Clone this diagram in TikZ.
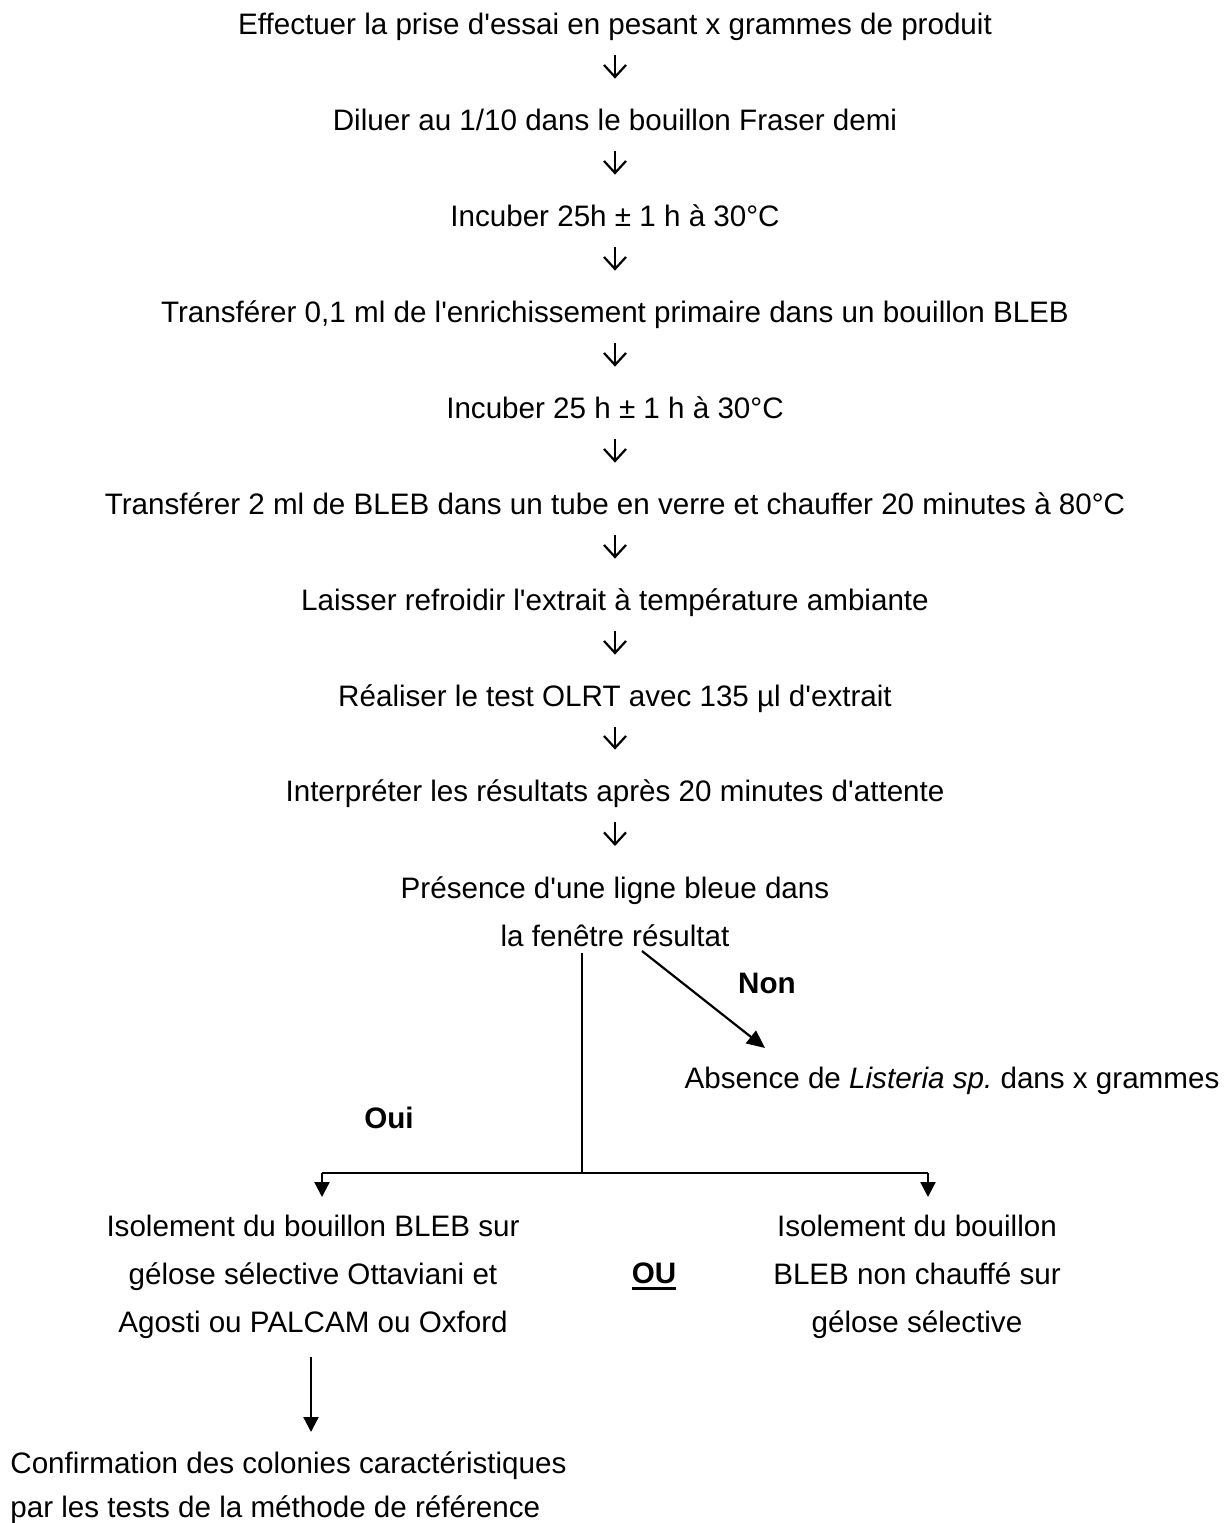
\documentclass[tikz,border=0pt]{standalone}
\usepackage{fontspec}
\setmainfont{Liberation Sans}[Ligatures=TeXOff]
\usetikzlibrary{arrows.meta}
\newsavebox\ulbox
\newcommand{\thickul}[1]{\sbox\ulbox{#1}\rlap{\rule[-3pt]{\wd\ulbox}{1.5pt}}\usebox\ulbox}

\begin{document}
\frenchspacing
\begin{tikzpicture} [x=0.5pt, y=-0.5pt,
    font=\fontsize{14.8pt}{24pt}\selectfont,
    stepline/.style={inner sep=0pt, text height=10.6pt, text depth=0pt},
    lbl/.style={stepline, font=\fontsize{14.8pt}{24pt}\selectfont\bfseries},
    block/.style={inner sep=0pt, align=center, anchor=north},
    downarrow/.style={-{Straight Barb[length=6pt,width=11pt]}, line width=1.1pt, shorten <=10.2pt, shorten >=15.2pt},
    branch/.style={-{Triangle[length=7.5pt,width=7.5pt]}, line width=1.1pt}]
        \useasboundingbox (0,0) rectangle (1229,1523);

        \node[stepline] (n1) at (615,24) {Effectuer la prise d'essai en pesant x grammes de produit};
        \node[stepline] (n2) at (615,120) {Diluer au 1/10 dans le bouillon Fraser demi};
        \node[stepline] (n3) at (615,216) {Incuber 25h ± 1 h à 30°C};
        \node[stepline] (n4) at (615,312) {Transférer 0,1 ml de l'enrichissement primaire dans un bouillon BLEB};
        \node[stepline] (n5) at (615,408) {Incuber 25 h ± 1 h à 30°C};
        \node[stepline] (n6) at (615,504) {Transférer 2 ml de BLEB dans un tube en verre et chauffer 20 minutes à 80°C};
        \node[stepline] (n7) at (615,600) {Laisser refroidir l'extrait à température ambiante};
        \node[stepline] (n8) at (615,696) {Réaliser le test OLRT avec 135 µl d'extrait};
        \node[stepline] (n9) at (615,791) {Interpréter les résultats après 20 minutes d'attente};
        \node[block] (n10) at (615,876.4) {Présence d'une ligne bleue dans\\la fenêtre résultat};

        \draw[downarrow] (n1) -- (n2);
        \draw[downarrow] (n2) -- (n3);
        \draw[downarrow] (n3) -- (n4);
        \draw[downarrow] (n4) -- (n5);
        \draw[downarrow] (n5) -- (n6);
        \draw[downarrow] (n6) -- (n7);
        \draw[downarrow] (n7) -- (n8);
        \draw[downarrow] (n8) -- (n9);
        \draw[downarrow] (n9) -- (n10);

        % Non
        \node[lbl] (non) at (767,983) {Non};
        \node[stepline] (absence) at (952,1078) {Absence de \textit{Listeria sp.} dans x grammes};
        \coordinate (nonA) at (642,951);
        \coordinate (nonB) at (765,1048);
        \draw[branch, -{Triangle[length=9pt,width=8pt]}] (nonA) -- (nonB);

        % Oui
        \node[lbl] (oui) at (389,1118) {Oui};
        \coordinate (fork) at (582,1173);
        \coordinate (forkL) at (322,1173);
        \coordinate (forkR) at (928,1173);
        \draw[line width=1.1pt, shorten <=2.7pt] (n10.south -| fork) -- (fork);
        \draw[line width=1.1pt] (forkL) -- (forkR);

        \node[block] (isoL) at (313,1214.4) {Isolement du bouillon BLEB sur\\gélose sélective Ottaviani et\\Agosti ou PALCAM ou Oxford};
        \node[lbl] (ou) at (654,1273) {\thickul{OU}};
        \node[block] (isoR) at (917,1214.4) {Isolement du bouillon\\BLEB non chauffé sur\\gélose sélective};
        \draw[branch, shorten >=8.7pt] (forkL) -- (forkL |- isoL.north);
        \draw[branch, shorten >=8.7pt] (forkR) -- (forkR |- isoR.north);

        \node[block, anchor=north west, align=left, font=\fontsize{14.8pt}{22pt}\selectfont] (confirm) at (10,1451) {Confirmation des colonies caractéristiques\\par les tests de la méthode de référence};
        \draw[branch, shorten <=9pt, shorten >=9.5pt] ([xshift=-1pt]isoL.south) -- ([xshift=-1pt]isoL.south |- confirm.north);
    \end{tikzpicture}
\end{document}
